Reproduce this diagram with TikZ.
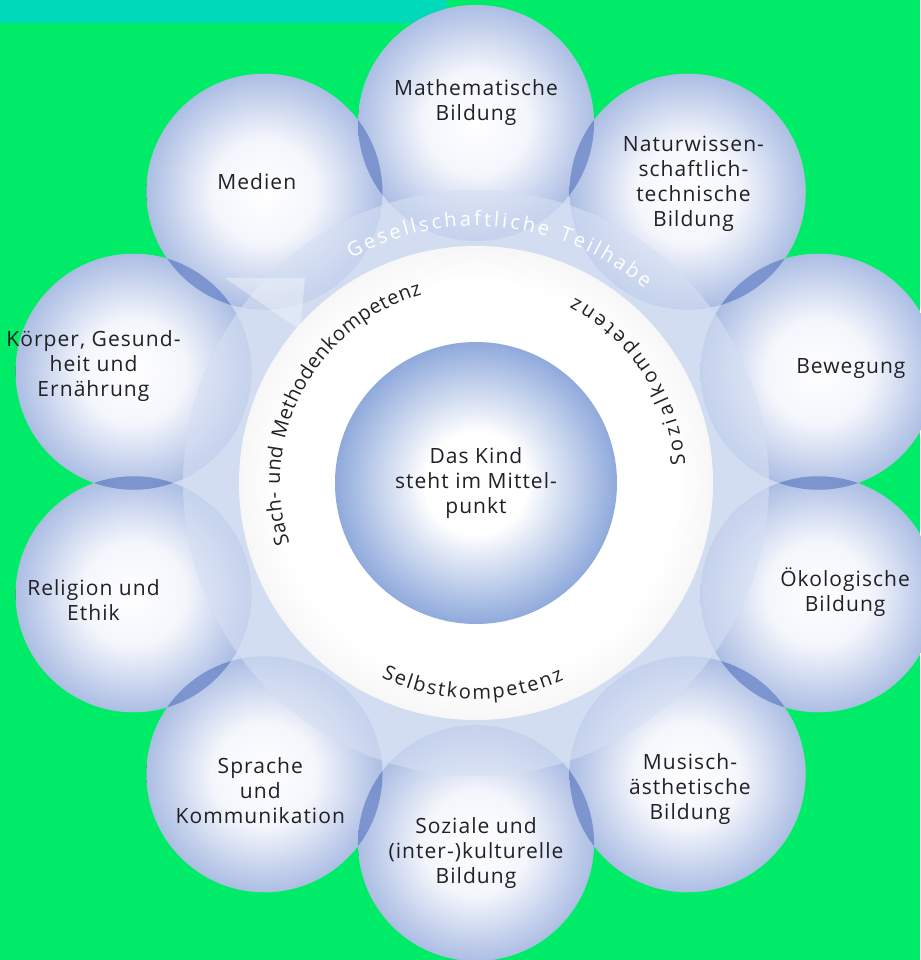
\documentclass[tikz,border=0pt]{standalone}
\usepackage{fontspec}
\setmainfont[LetterSpace=5]{Open Sans}
\usetikzlibrary{positioning,decorations.text}

\definecolor{bggreen}{RGB}{0,235,104}
\definecolor{barteal}{RGB}{0,217,185}
\definecolor{ballblue}{RGB}{88,122,194}
\definecolor{ballmid}{RGB}{172,190,228}
\definecolor{ballwhite}{RGB}{244,246,252}
\definecolor{kidblue}{RGB}{72,113,190}
\definecolor{kidmid}{RGB}{150,175,222}
\definecolor{ringgray}{RGB}{226,226,229}
\definecolor{basefill}{RGB}{205,217,240}
\definecolor{bandtint}{RGB}{160,183,228}
\definecolor{labeltext}{RGB}{32,32,38}

% circle edge sits at 35.4bp of a radial shading
\pgfdeclareradialshading{ballshade}{\pgfpoint{0bp}{0bp}}{color(0bp)=(white); color(11bp)=(ballwhite); color(25bp)=(ballmid); color(35.4bp)=(ballblue); color(50bp)=(ballblue)}
\pgfdeclareradialshading{kidshade}{\pgfpoint{0bp}{0bp}}{color(0bp)=(white); color(9bp)=(white); color(24bp)=(kidmid); color(35.4bp)=(kidblue); color(50bp)=(kidblue)}
\pgfdeclareradialshading{ringshade}{\pgfpoint{0bp}{0bp}}{color(0bp)=(white); color(21bp)=(white); color(35.4bp)=(ringgray); color(50bp)=(ringgray)}

\newcommand{\labelfont}{\fontsize{21}{25}\selectfont}
\newcommand{\ringfont}{\fontsize{20}{20}\selectfont}

\begin{document}
\begin{tikzpicture}[x=1pt,y=1pt,
    ball/.style={circle, minimum size=236pt, inner sep=0pt, shading=ballshade},
    kid/.style={circle, minimum size=282pt, inner sep=0pt, shading=kidshade,
      align=center, font=\labelfont, text=labeltext},
    lbl/.style={align=center, font=\labelfont, text=labeltext, inner sep=0pt}]
  \useasboundingbox[fill=bggreen] (-476,-477) rectangle (444,483);
  \fill[barteal] (-476,460) rectangle (-29,483);

  % ring of fields
  \fill[basefill] (0,0) circle[radius=303];
  \foreach \a in {90,54,18,-18,-54,-90,-126,-162,162,126}
    \fill[white] (\a:360) circle[radius=118];
  \begin{scope}[blend mode=multiply]
    \foreach \a/\n in {90/mat,54/nat,18/bew,-18/oek,-54/mus,-90/soz,-126/spr,-162/rel,162/koe,126/med}
      \node[ball] (\n) at (\a:360) {};
  \end{scope}

  % Teilhabe band with its arrow head
  \fill[bandtint, fill opacity=0.4] (0,0) circle[radius=293];
  \fill[white, fill opacity=0.35] (0,0) circle[radius=293];
  \fill[white, fill opacity=0.35] (-251,205) -- (-171,205) -- (-176,153) -- cycle;

  % competences ring and centre
  \shade[shading=ringshade] (0,0) circle[radius=237];
  \node[kid] (kind) at (0,0) {Das Kind\\steht im Mittel-\\punkt};

  \path[decorate, decoration={text along path, text color=white, text align=fit to path,
      text={|\ringfont|Gesellschaftliche Teilhabe}}]
    (119:257) arc[start angle=119, end angle=49, radius=257];
  \path[decorate, decoration={text along path, text color=labeltext, text align=fit to path,
      text={|\ringfont|Sach- und Methodenkompetenz}}]
    (198:196) arc[start angle=198, end angle=106, radius=196];
  \path[decorate, decoration={text along path, text color=labeltext, text align=fit to path,
      text={|\ringfont|Sozialkompetenz}}]
    (5:210) arc[start angle=5, end angle=62, radius=210];
  \path[decorate, decoration={text along path, text color=labeltext, text align=fit to path,
      text={|\ringfont|Selbstkompetenz}}]
    (244:216) arc[start angle=244, end angle=294, radius=216];

  % field labels
  \foreach \a/\r/\n/\t in {90/380/mat/{Mathematische\\Bildung},
      54/370/nat/{Naturwissen-\\schaftlich-\\technische\\Bildung},
      17/392/bew/{Bewegung},
      -16.5/385/oek/{Ökologische\\Bildung},
      -55/373/mus/{Musisch-\\ästhetische\\Bildung},
      -90/370/soz/{Soziale und\\(inter-)kulturelle\\Bildung},
      -125/376/spr/{Sprache\\und\\Kommunikation},
      -163/400/rel/{Religion und\\Ethik},
      163/400/koe/{Körper, Gesund-\\heit und\\Ernährung},
      126/373/med/{Medien}}
    \node[lbl] (\n label) at (\a:\r) {\t};
\end{tikzpicture}
\end{document}
